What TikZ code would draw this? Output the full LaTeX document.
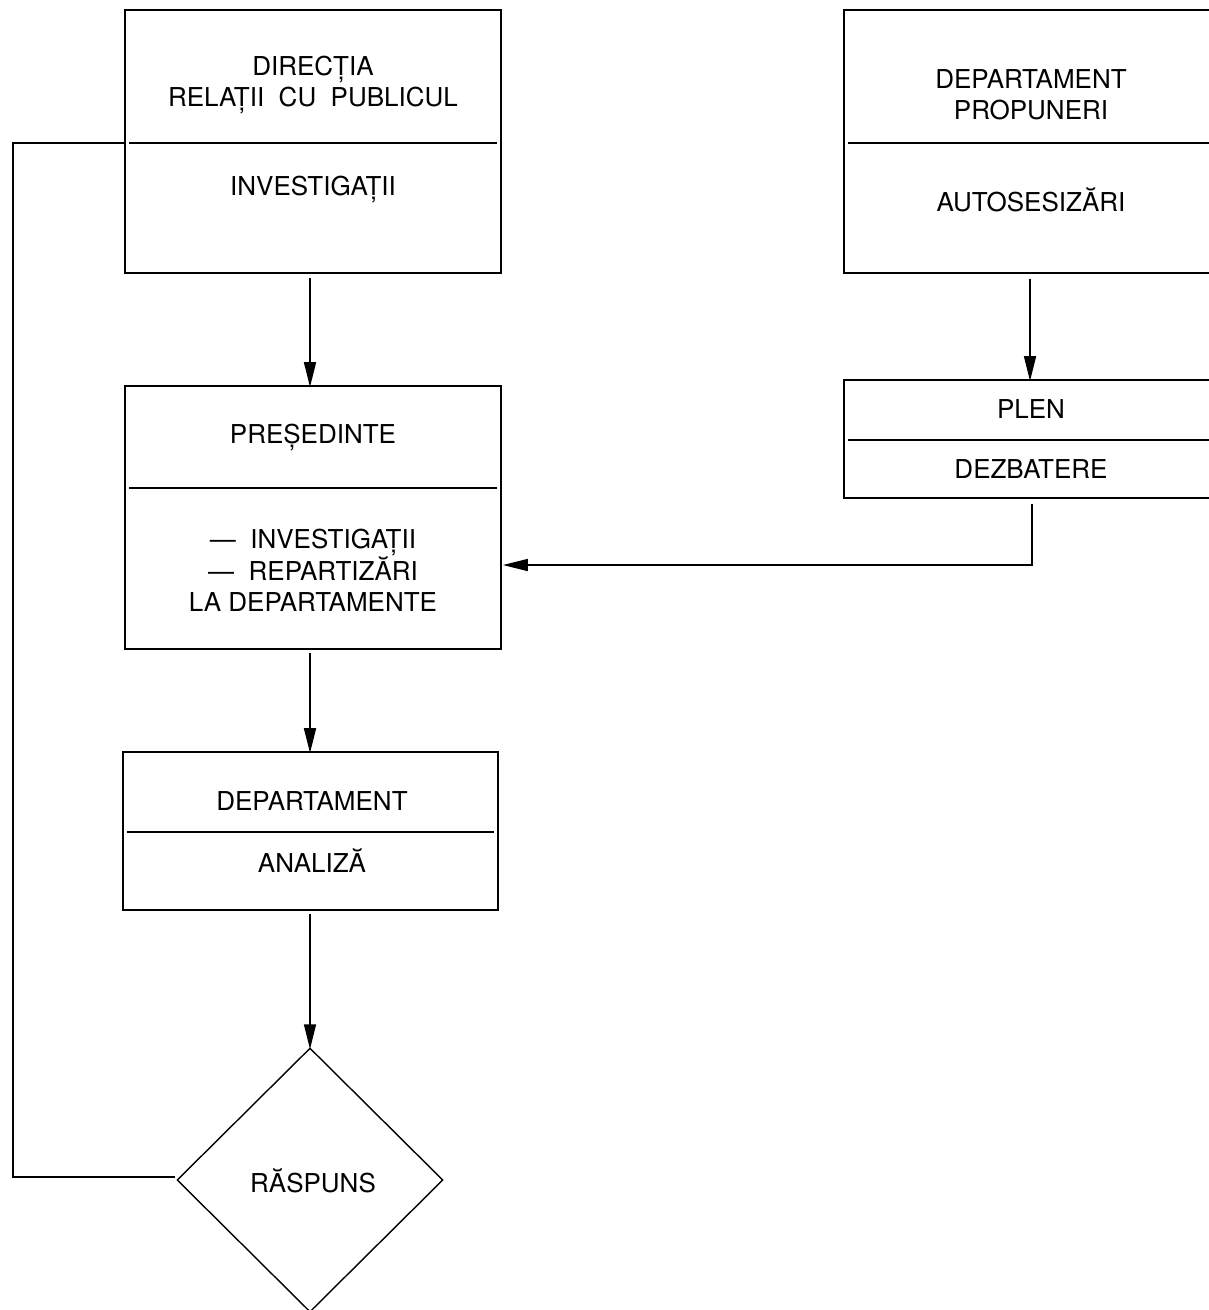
\documentclass[tikz,border=0pt]{standalone}
\usepackage{fontspec}
\setmainfont{TeX Gyre Heros}
\usetikzlibrary{arrows.meta,shapes.geometric}
\begin{document}
\begin{tikzpicture}[x=1pt,y=-1pt,
  box/.style={draw,line width=1.8pt,inner sep=0pt,minimum width=#1},
  divider/.style={line width=1.6pt},
  lbl/.style={font=\fontsize{26}{31}\selectfont,align=center,inner sep=0pt},
  conn/.style={line width=1.6pt},
  arr/.style={conn,-{Triangle[length=25pt,width=12pt]}},
  dia/.style={draw,diamond,line width=1.4pt,inner sep=0pt,minimum width=266pt,minimum height=264pt}
]
\useasboundingbox (0,0) rectangle (1209,1310);
\clip (0,0) rectangle (1209,1310);

% boxes
\node[box=376pt,minimum height=263pt] (b1) at (313,141.5) {};
\node[box=374pt,minimum height=263pt] (b2) at (1031,141.5) {};
\node[box=374pt,minimum height=118pt] (plen) at (1031,439) {};
\node[box=376pt,minimum height=263pt] (pres) at (313,517.5) {};
\node[box=375pt,minimum height=158pt] (dep) at (310.5,831) {};
\node[dia] (rasp) at (310,1180) {};

% dividers
\draw[divider] (129,143) -- (497,143);
\draw[divider] (848,143) -- (1214,143);
\draw[divider] (848,440) -- (1214,440);
\draw[divider] (129,488) -- (497,488);
\draw[divider] (127,832) -- (494,832);

% texts
\node[lbl] (t1a) at (313,84.5) {DIRECȚIA\\RELAȚII\ \ CU\ \ PUBLICUL};
\node[lbl] (t1b) at (313,189) {INVESTIGAȚII};
\node[lbl] (t2a) at (1031,95) {DEPARTAMENT\\PROPUNERI};
\node[lbl] (t2b) at (1031,200) {AUTOSESIZĂRI};
\node[lbl] (t3a) at (1031,409) {PLEN};
\node[lbl] (t3b) at (1031,469) {DEZBATERE};
\node[lbl] (t4a) at (313,437) {PREȘEDINTE};
\node[lbl] (t4b) at (313,570) {—\ \ INVESTIGAȚII\\—\ \ REPARTIZĂRI\\LA DEPARTAMENTE};
\node[lbl] (t5a) at (312,801) {DEPARTAMENT};
\node[lbl] (t5b) at (312,861) {ANALIZĂ};
\node[lbl] (t6) at (313,1181) {RĂSPUNS};

% connectors
\draw[arr] ([xshift=-3pt,yshift=-4pt]b1.south) -- ([xshift=-3pt,yshift=-2pt]pres.north);
\draw[arr] ([xshift=-1pt,yshift=-5pt]b2.south) -- ([xshift=-1pt,yshift=-2pt]plen.north);
\coordinate (c1) at (1032,565);
\draw[arr] ([yshift=-5pt]plen.south -| c1) -- (c1) -- ([xshift=1pt]c1 -| pres.east);
\draw[arr] ([xshift=-3pt,yshift=-3pt]pres.south) -- ([xshift=-0.5pt,yshift=-2pt]dep.north);
\draw[arr] ([xshift=-0.5pt,yshift=-3pt]dep.south) -- ([yshift=-2pt]rasp.north);
\coordinate (c2) at (13,1177);
\coordinate (c3) at (13,143);
\draw[conn] ([xshift=-1pt]c2 -| rasp.west) -- (c2) -- (c3) -- (c3 -| b1.west);
\end{tikzpicture}
\end{document}
